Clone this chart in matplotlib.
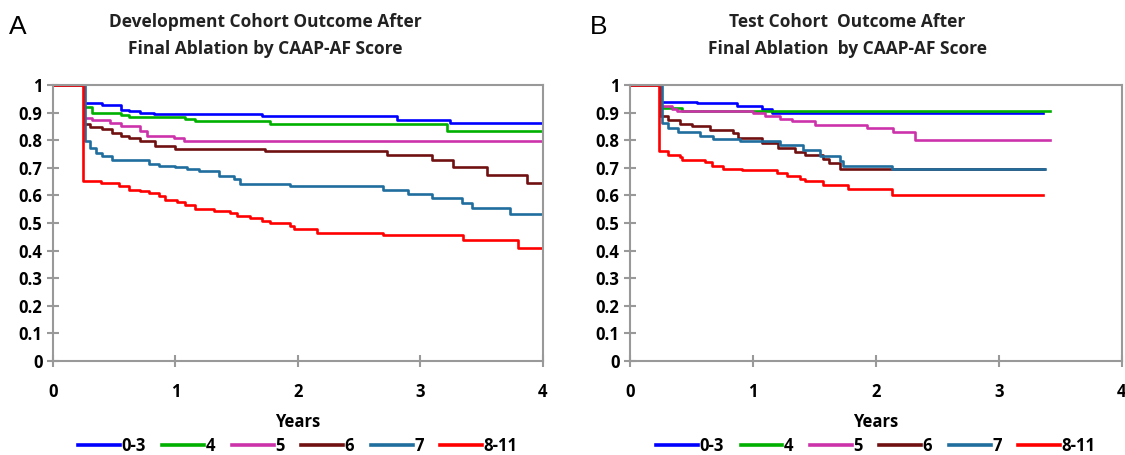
import matplotlib
matplotlib.use("Agg")
import matplotlib.pyplot as plt

groups = ["0-3", "4", "5", "6", "7", "8-11"]
colors = ["#0000FF", "#00B000", "#CC33AA", "#701010", "#1F6E9E", "#FF0000"]

# Development cohort (panel A): step times (years) and survival after each step
dev_t = {
    "0-3": [0.253, 0.402, 0.552, 0.62, 0.715, 0.823, 1.707, 2.807, 3.242, 4.0],
    "4": [0.253, 0.32, 0.552, 0.62, 1.082, 1.163, 1.774, 3.215, 4.0],
    "5": [0.253, 0.32, 0.47, 0.552, 0.715, 0.77, 0.986, 1.068, 4.0],
    "6": [0.253, 0.307, 0.402, 0.484, 0.552, 0.62, 0.715, 0.837, 1.0, 1.734,
          2.726, 3.092, 3.269, 3.541, 3.867, 4.0],
    "7": [0.266, 0.307, 0.348, 0.402, 0.484, 0.783, 0.864, 1.0, 1.095, 1.19,
          1.353, 1.476, 1.53, 1.938, 2.698, 2.902, 3.092, 3.337, 3.418, 3.731, 4.0],
    "8-11": [0.245, 0.389, 0.538, 0.62, 0.715, 0.783, 0.864, 0.918, 1.014, 1.082,
             1.163, 1.313, 1.448, 1.503, 1.611, 1.707, 1.774, 1.938, 1.965, 2.155,
             2.698, 3.351, 3.80, 4.0],
}
dev_s = {
    "0-3": [0.934, 0.928, 0.91, 0.904, 0.90, 0.894, 0.886, 0.874, 0.864, 0.864],
    "4": [0.922, 0.90, 0.892, 0.883, 0.876, 0.868, 0.858, 0.834, 0.834],
    "5": [0.88, 0.874, 0.862, 0.852, 0.832, 0.816, 0.808, 0.798, 0.798],
    "6": [0.858, 0.847, 0.84, 0.826, 0.816, 0.808, 0.796, 0.78, 0.769, 0.762,
          0.748, 0.727, 0.703, 0.675, 0.645, 0.645],
    "7": [0.796, 0.772, 0.754, 0.742, 0.727, 0.715, 0.708, 0.703, 0.694, 0.688,
          0.672, 0.66, 0.643, 0.633, 0.621, 0.606, 0.591, 0.573, 0.553, 0.531, 0.531],
    "8-11": [0.651, 0.645, 0.633, 0.619, 0.615, 0.609, 0.597, 0.585, 0.576, 0.567,
             0.549, 0.543, 0.535, 0.525, 0.519, 0.507, 0.501, 0.489, 0.477, 0.465,
             0.456, 0.439, 0.411, 0.411],
}

# Test cohort (panel B)
test_t = {
    "0-3": [0.244, 0.548, 0.868, 1.071, 1.153, 3.355],
    "4": [0.244, 0.42, 3.417],
    "5": [0.244, 0.339, 0.38, 1.003, 1.098, 1.22, 1.315, 1.505, 1.925, 2.142,
          2.319, 3.417],
    "6": [0.244, 0.312, 0.407, 0.502, 0.651, 0.84, 0.881, 1.071, 1.207, 1.342,
          1.424, 1.573, 1.614, 1.708, 3.363],
    "7": [0.258, 0.312, 0.393, 0.569, 0.678, 0.895, 1.22, 1.41, 1.546, 1.708,
          1.735, 2.129, 3.376],
    "8-11": [0.239, 0.312, 0.407, 0.42, 0.61, 0.665, 0.76, 0.909, 1.193, 1.275,
             1.383, 1.424, 1.573, 1.776, 2.129, 3.355],
}
test_s = {
    "0-3": [0.94, 0.934, 0.924, 0.912, 0.898, 0.898],
    "4": [0.916, 0.905, 0.905],
    "5": [0.924, 0.912, 0.904, 0.898, 0.888, 0.876, 0.868, 0.856, 0.844, 0.829,
          0.802, 0.802],
    "6": [0.886, 0.874, 0.859, 0.85, 0.838, 0.826, 0.808, 0.79, 0.772, 0.756,
          0.748, 0.732, 0.718, 0.697, 0.697],
    "7": [0.862, 0.844, 0.828, 0.814, 0.805, 0.798, 0.784, 0.766, 0.742, 0.724,
          0.708, 0.696, 0.696],
    "8-11": [0.76, 0.748, 0.739, 0.727, 0.72, 0.706, 0.697, 0.691, 0.681, 0.672,
             0.66, 0.651, 0.639, 0.624, 0.60, 0.60],
}

y_ticks = [0, 0.1, 0.2, 0.3, 0.4, 0.5, 0.6, 0.7, 0.8, 0.9, 1]
y_labels = ["0", "0.1", "0.2", "0.3", "0.4", "0.5", "0.6", "0.7", "0.8", "0.9", "1"]

font = "Open Sans"
grey = "#999999"

fig = plt.figure(figsize=(11.25, 4.55), dpi=100)
axA = fig.add_axes([0.047, 0.2066, 0.4356, 0.6066])
axB = fig.add_axes([0.56, 0.2066, 0.4373, 0.6066])


def draw_panel(ax, times, surv):
    for g, c in zip(groups, colors):
        # curve starts at 1 and holds each value until the next time point
        xs = [0.0] + times[g]
        ys = [1.0] + surv[g]
        ax.step(xs, ys, where="post", color=c, lw=1.9, label=g)
    ax.set_xlim(0, 4)
    ax.set_ylim(0, 1)
    ax.set_xticks([0, 1, 2, 3, 4])
    ax.set_yticks(y_ticks)
    ax.set_yticklabels(y_labels)
    for sp in ax.spines.values():
        sp.set_color(grey)
        sp.set_linewidth(1.5)
    ax.tick_params(axis="both", color=grey, width=1.5, length=9, direction="inout",
                   labelsize=12)
    ax.tick_params(axis="x", pad=11)
    ax.tick_params(axis="y", pad=3)
    for lab in ax.get_xticklabels() + ax.get_yticklabels():
        lab.set_fontfamily(font)
        lab.set_fontweight("bold")
    ax.set_xlabel("Years", fontsize=12, fontweight="bold", family=font, labelpad=9)
    leg = ax.legend(loc="upper center", bbox_to_anchor=(0.5, -0.275), ncol=6,
                    frameon=False, handlelength=2.5, handletextpad=0.1,
                    columnspacing=1.0, borderaxespad=0, borderpad=0,
                    prop={"family": font, "weight": "bold", "size": 12})
    for line in leg.get_lines():
        line.set_linewidth(2.6)


draw_panel(axA, dev_t, dev_s)
draw_panel(axB, test_t, test_s)

fig.text(0.236, 0.922, "Development Cohort Outcome After\nFinal Ablation by CAAP-AF Score",
         ha="center", va="center", fontsize=12.5, fontweight="bold", family=font,
         color="#222222", linespacing=1.6)
fig.text(0.753, 0.922, "Test Cohort  Outcome After\nFinal Ablation  by CAAP-AF Score",
         ha="center", va="center", fontsize=12.5, fontweight="bold", family=font,
         color="#222222", linespacing=1.6)
fig.text(0.008, 0.94, "A", fontsize=19, family="Liberation Sans", va="center")
fig.text(0.524, 0.94, "B", fontsize=19, family="Liberation Sans", va="center")

fig.savefig("out.png", dpi=100)
